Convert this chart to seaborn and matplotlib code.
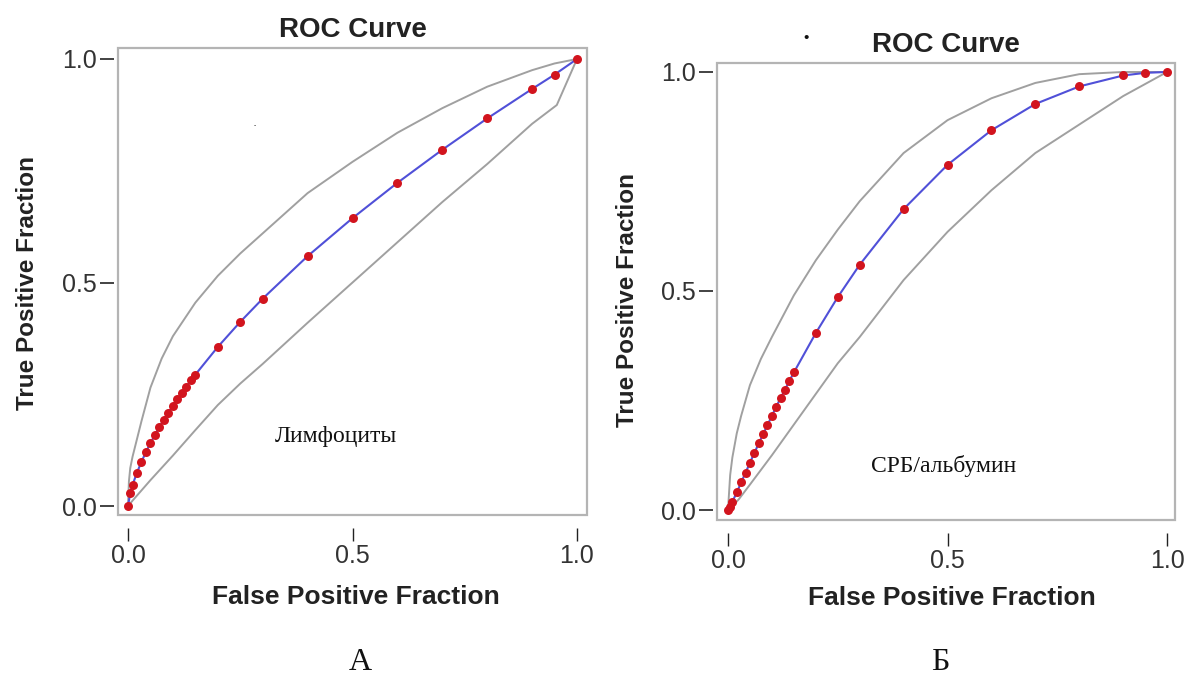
import matplotlib
matplotlib.use("Agg")
import matplotlib.pyplot as plt
import pandas as pd
import seaborn as sns
from matplotlib.patches import Rectangle

# ---------------- data ----------------
fpf = [0, 0.005, 0.01, 0.02, 0.03, 0.04, 0.05, 0.06, 0.07, 0.08, 0.09, 0.10,
       0.11, 0.12, 0.13, 0.14, 0.15, 0.20, 0.25, 0.30, 0.40, 0.50, 0.60,
       0.70, 0.80, 0.90, 0.95, 1.0]
tpf_lymph = [0, 0.029, 0.047, 0.075, 0.099, 0.121, 0.141, 0.159, 0.177, 0.193,
             0.209, 0.224, 0.239, 0.253, 0.267, 0.281, 0.294, 0.356, 0.412,
             0.464, 0.559, 0.644, 0.723, 0.797, 0.867, 0.933, 0.965, 1.0]
tpf_crp = [0, 0.008, 0.019, 0.040, 0.063, 0.085, 0.108, 0.130, 0.152, 0.173,
           0.194, 0.215, 0.236, 0.256, 0.275, 0.295, 0.314, 0.404, 0.486,
           0.560, 0.687, 0.788, 0.867, 0.927, 0.967, 0.992, 0.998, 1.0]

upper_lymph_x = [0, 0.002, 0.005, 0.01, 0.02, 0.03, 0.05, 0.075, 0.1, 0.15, 0.2,
                 0.25, 0.3, 0.4, 0.5, 0.6, 0.7, 0.8, 0.9, 0.95, 1.0]
upper_lymph_y = [0, 0.055, 0.085, 0.11, 0.15, 0.19, 0.265, 0.33, 0.38, 0.455,
                 0.515, 0.565, 0.61, 0.70, 0.77, 0.835, 0.89, 0.938, 0.975,
                 0.99, 1.0]
lower_lymph_x = [0, 0.01, 0.03, 0.05, 0.1, 0.15, 0.2, 0.25, 0.3, 0.4, 0.5, 0.6,
                 0.7, 0.8, 0.9, 0.955, 1.0]
lower_lymph_y = [0, 0.012, 0.035, 0.058, 0.113, 0.17, 0.226, 0.274, 0.318, 0.41,
                 0.50, 0.59, 0.68, 0.765, 0.855, 0.897, 1.0]

upper_crp_x = [0, 0.005, 0.01, 0.02, 0.03, 0.05, 0.075, 0.1, 0.15, 0.2, 0.25,
               0.3, 0.4, 0.5, 0.6, 0.7, 0.8, 0.9, 1.0]
upper_crp_y = [0, 0.08, 0.12, 0.175, 0.215, 0.285, 0.345, 0.395, 0.49, 0.57,
               0.64, 0.705, 0.815, 0.89, 0.94, 0.975, 0.995, 1.0, 1.0]
lower_crp_x = [0, 0.01, 0.025, 0.05, 0.1, 0.15, 0.2, 0.25, 0.3, 0.4, 0.5, 0.6,
               0.7, 0.8, 0.9, 1.0]
lower_crp_y = [0, 0.008, 0.025, 0.058, 0.125, 0.195, 0.265, 0.335, 0.395, 0.525,
               0.635, 0.73, 0.815, 0.88, 0.945, 1.0]

tick_values = [0.0, 0.5, 1.0]
tick_labels = ["0.0", "0.5", "1.0"]
title_text = "ROC Curve"
xlabel_text = "False Positive Fraction"
ylabel_text = "True Positive Fraction"
panel_names = ["Лимфоциты", "СРБ/альбумин"]
panel_letters = ["А", "Б"]

# ---------------- style ----------------
sns.set_theme(style="white")
plt.rcParams["font.family"] = ["Liberation Sans", "DejaVu Sans"]

W, H = 1184, 680
fig = plt.figure(figsize=(W / 100, H / 100), dpi=100)
fig.patch.set_facecolor("white")

GRAY = "#a0a0a0"
FRAME = "#b4b4b4"
BLUE = "#5050d8"
RED = "#d2141e"
TXT = "#333333"


def px(x, y):
    return x / W, 1 - y / H


def panel(rect, xlim, ylim, x, y, ux, uy, lx, ly):
    ax = fig.add_axes(rect)
    ax.set_facecolor("white")
    sns.lineplot(x=ux, y=uy, ax=ax, color=GRAY, lw=1.4, sort=False,
                 estimator=None)
    sns.lineplot(x=lx, y=ly, ax=ax, color=GRAY, lw=1.4, sort=False,
                 estimator=None)
    sns.lineplot(x=x, y=y, ax=ax, color=BLUE, lw=1.5, sort=False,
                 estimator=None)
    sns.scatterplot(x=x, y=y, ax=ax, color=RED, s=42, linewidth=0,
                    zorder=5)
    ax.set_xlim(*xlim)
    ax.set_ylim(*ylim)
    ax.set_xticks(tick_values)
    ax.set_xticklabels(tick_labels)
    ax.set_yticks(tick_values)
    ax.set_yticklabels(tick_labels)
    ax.set_xlabel("")
    ax.set_ylabel("")
    for s in ["top", "right"]:
        ax.spines[s].set_visible(False)
    ax.spines["left"].set_position(("outward", 3))
    ax.spines["bottom"].set_position(("outward", 9))
    ax.spines["left"].set_visible(False)
    ax.spines["bottom"].set_visible(False)
    ax.tick_params(axis="y", which="major", direction="out", length=10,
                   width=1.2, color="#222222", pad=2, labelsize=18,
                   labelcolor=TXT, left=True)
    ax.tick_params(axis="x", which="major", direction="out", length=9,
                   width=1.0, color="#222222", pad=3, labelsize=18,
                   labelcolor=TXT, bottom=True)
    ax.add_patch(Rectangle((0, 0), 1, 1, transform=ax.transAxes, fill=False,
                           edgecolor=FRAME, lw=1.6, clip_on=False, zorder=10))
    ax.grid(False)
    return ax


axL = panel([118 / W, 1 - 515 / H, 469 / W, 467 / H],
            (-0.0223, 1.0223), (-0.020, 1.0246),
            fpf, tpf_lymph, upper_lymph_x, upper_lymph_y,
            lower_lymph_x, lower_lymph_y)
axR = panel([717 / W, 1 - 520 / H, 458 / W, 457 / H],
            (-0.025, 1.018), (-0.0228, 1.0205),
            fpf, tpf_crp, upper_crp_x, upper_crp_y,
            lower_crp_x, lower_crp_y)

# panel annotations
axL.text(0.327, 0.155, panel_names[0], family="Liberation Serif",
         fontsize=17, color="#111111", ha="left", va="center")
axR.text(0.325, 0.100, panel_names[1], family="Liberation Serif",
         fontsize=17, color="#111111", ha="left", va="center")

# titles / axis labels
bold = dict(family="Liberation Sans", fontweight="bold", color="#222222")
fig.text(*px(353, 30), title_text, ha="center", va="center", fontsize=20, **bold)
fig.text(*px(946, 45), title_text, ha="center", va="center", fontsize=20, **bold)
fig.text(*px(356, 597), xlabel_text, ha="center", va="center", fontsize=19, **bold)
fig.text(*px(952, 598), xlabel_text, ha="center", va="center", fontsize=19, **bold)
fig.text(*px(28, 283), ylabel_text, ha="center", va="center", rotation=90,
         fontsize=17.5, **bold)
fig.text(*px(628, 300), ylabel_text, ha="center", va="center", rotation=90,
         fontsize=17.5, **bold)

# panel letters
fig.text(*px(360, 662), panel_letters[0], ha="center", va="center",
         family="Liberation Serif", fontsize=23, color="#111111")
fig.text(*px(940, 662), panel_letters[1], ha="center", va="center",
         family="Liberation Serif", fontsize=23, color="#111111")

# small stray dots present in the source image
fig.text(*px(255, 126), "·", ha="center", va="center", fontsize=9, color="#222222")
fig.text(*px(806, 38), "•", ha="center", va="center", fontsize=11, color="#111111")

fig.savefig("out.png", dpi=100, facecolor="white")
